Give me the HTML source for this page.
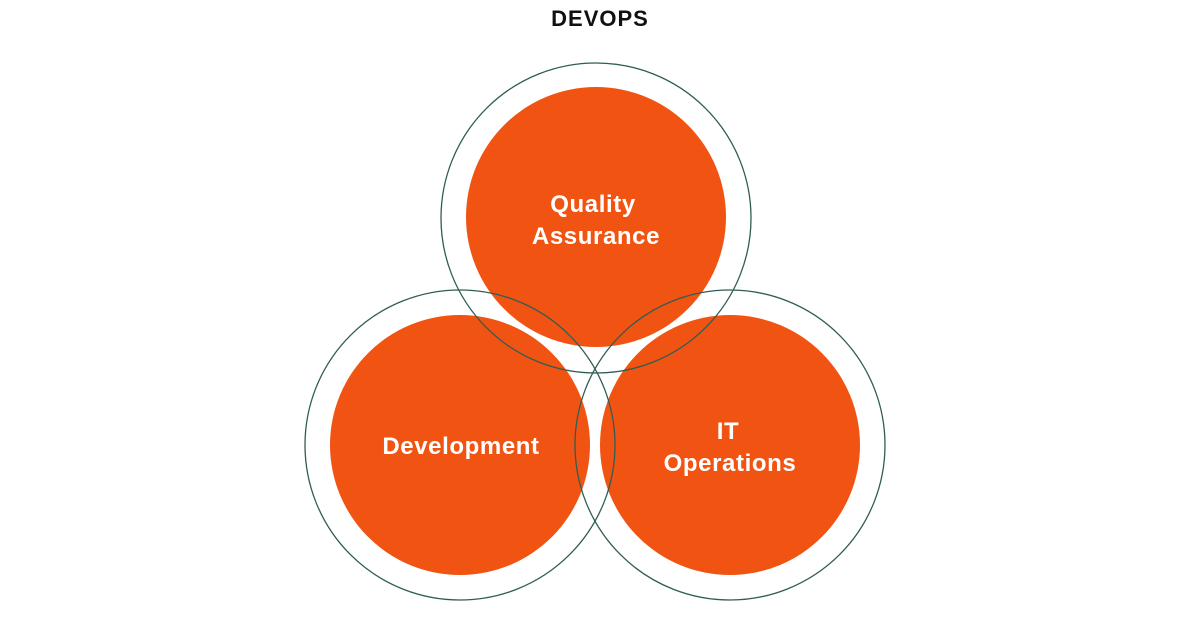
<!DOCTYPE html>
<html><head><meta charset="utf-8"><style>
html,body{margin:0;padding:0;background:#fff;}
body{width:1200px;height:617px;overflow:hidden;}
</style></head><body>
<svg width="1200" height="617" viewBox="0 0 1200 617" xmlns="http://www.w3.org/2000/svg">
<text x="600" y="26" text-anchor="middle" font-family="Liberation Sans, sans-serif" font-weight="bold" font-size="22" letter-spacing="1" fill="#111">DEVOPS</text>
<g fill="#f15412">
<circle cx="596" cy="217" r="130"/>
<circle cx="460" cy="445" r="130"/>
<circle cx="730" cy="445" r="130"/>
</g>
<g fill="none" stroke="#2f5d54" stroke-width="1.3">
<circle cx="596" cy="218" r="155"/>
<circle cx="460" cy="445" r="155"/>
<circle cx="730" cy="445" r="155"/>
</g>
<g font-family="Liberation Sans, sans-serif" font-weight="bold" font-size="24" letter-spacing="0.6" fill="#fff" text-anchor="middle">
<text x="593" y="212">Quality</text>
<text x="596" y="244">Assurance</text>
<text x="461" y="454">Development</text>
<text x="728" y="439">IT</text>
<text x="730" y="471">Operations</text>
</g>
</svg>
</body></html>
